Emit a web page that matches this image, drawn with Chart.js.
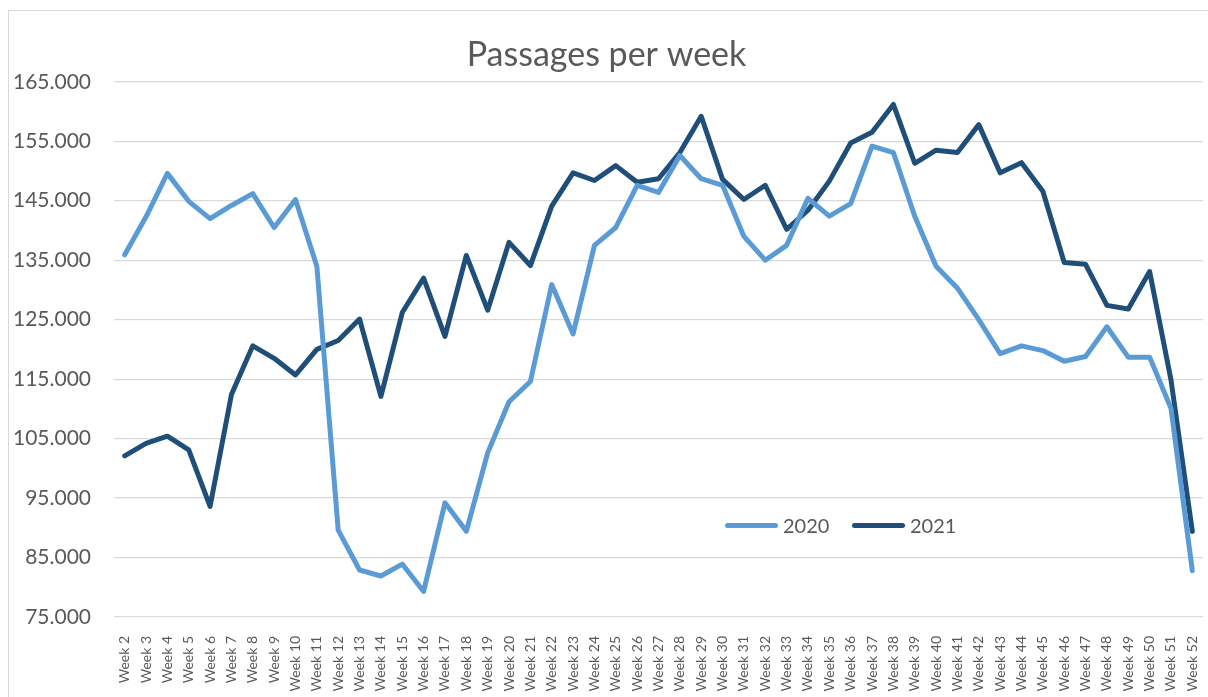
<!DOCTYPE html>
<html>
<head>
<meta charset="utf-8">
<script src="https://cdn.jsdelivr.net/npm/chart.js@4/dist/chart.umd.min.js"></script>
<style>
  body { margin: 0; background: #fff; font-family: Lato, sans-serif; }
  #frame { position: absolute; left: 8px; top: 10px; width: 1300px; height: 800px; border: 1px solid #d9d9d9; }
  #wrap { position: absolute; left: 0; top: 0; width: 1208px; height: 697px; }
  .leg { position: absolute; top: 512px; height: 26px; display: flex; align-items: center; color: #595959; font-size: 20px; }
  .leg span.bar { display: inline-block; width: 53px; height: 5px; border-radius: 3px; margin-right: 5px; }
</style>
</head>
<body>
<div id="frame"></div>
<div id="wrap"><canvas id="myCanvas" width="1208" height="697"></canvas></div>
<div class="leg" style="left:725px"><span class="bar" style="background:#5b9bd5"></span>2020</div>
<div class="leg" style="left:852px"><span class="bar" style="background:#1f4e79"></span>2021</div>
<script>
const weeks = Array.from({ length: 51 }, (_, i) => "Week " + (i + 2));

const passages2020 = [
  135900, 142300, 149600, 144900, 142000, 144200, 146200, 140500, 145200, 134000,
  89600, 82900, 81900, 83900, 79300, 94200, 89400, 102600, 111200, 114600,
  130900, 122600, 137500, 140500, 147600, 146400, 152600, 148700, 147600, 139000,
  135000, 137500, 145400, 142400, 144500, 154200, 153100, 142400, 134000, 130300,
  125000, 119300, 120600, 119800, 118000, 118800, 123800, 118700, 118700, 110100,
  82800
];

const passages2021 = [
  102100, 104200, 105400, 103100, 93600, 112400, 120600, 118500, 115700, 120000,
  121500, 125100, 112100, 126200, 132000, 122200, 135800, 126600, 138000, 134100,
  144100, 149700, 148400, 150900, 148100, 148700, 153100, 159200, 148600, 145200,
  147600, 140200, 143400, 148300, 154700, 156500, 161200, 151300, 153500, 153100,
  157800, 149700, 151400, 146600, 134600, 134300, 127400, 126800, 133100, 114900,
  89400
];

const yMin = 75000;
const yMax = 165000;
const yStep = 10000;

function renderChart() {
  const ctx = document.getElementById("myCanvas").getContext("2d");

  new Chart(ctx, {
    type: "line",
    data: {
      labels: weeks,
      datasets: [
        {
          label: "2020",
          data: passages2020,
          borderColor: "#5b9bd5",
          backgroundColor: "#5b9bd5",
          borderWidth: 5,
          borderCapStyle: "round",
          borderJoinStyle: "round",
          pointRadius: 0,
          tension: 0,
          fill: false,
        },
        {
          label: "2021",
          data: passages2021,
          borderColor: "#1f4e79",
          backgroundColor: "#1f4e79",
          borderWidth: 5,
          borderCapStyle: "round",
          borderJoinStyle: "round",
          pointRadius: 0,
          tension: 0,
          fill: false,
        },
      ],
    },
    options: {
      responsive: false,
      animation: false,
      layout: { padding: { left: 10, right: 5, top: 0, bottom: 0 } },
      plugins: {
        legend: { display: false },
        tooltip: { enabled: false },
        title: {
          display: true,
          text: "Passages per week",
          color: "#595959",
          font: { family: "Lato", size: 34, weight: "normal" },
          padding: { top: 35, bottom: 6 },
        },
      },
      scales: {
        x: {
          offset: true,
          grid: { display: false },
          border: { display: false },
          ticks: {
            color: "#595959",
            font: { family: "Lato", size: 14 },
            minRotation: 90,
            maxRotation: 90,
            autoSkip: false,
            padding: 11,
          },
          afterFit: (scale) => {
            scale.height = 80;
            scale.paddingLeft = 0;
            scale.paddingRight = 0;
          },
        },
        y: {
          min: yMin,
          max: yMax,
          grid: { color: "#d9d9d9", lineWidth: 1.2, drawTicks: false },
          border: { display: false },
          ticks: {
            stepSize: yStep,
            color: "#595959",
            font: { family: "Lato", size: 21 },
            padding: 23,
            callback: (v) => Math.round(v / 1000) + ".000",
          },
          afterFit: (scale) => {
            scale.width = 104;
          },
        },
      },
    },
  });
}

if (document.fonts && document.fonts.load) {
  Promise.all([
    document.fonts.load("34px Lato"),
    document.fonts.load("14px Lato"),
  ]).then(renderChart, renderChart);
} else {
  renderChart();
}
</script>
</body>
</html>
